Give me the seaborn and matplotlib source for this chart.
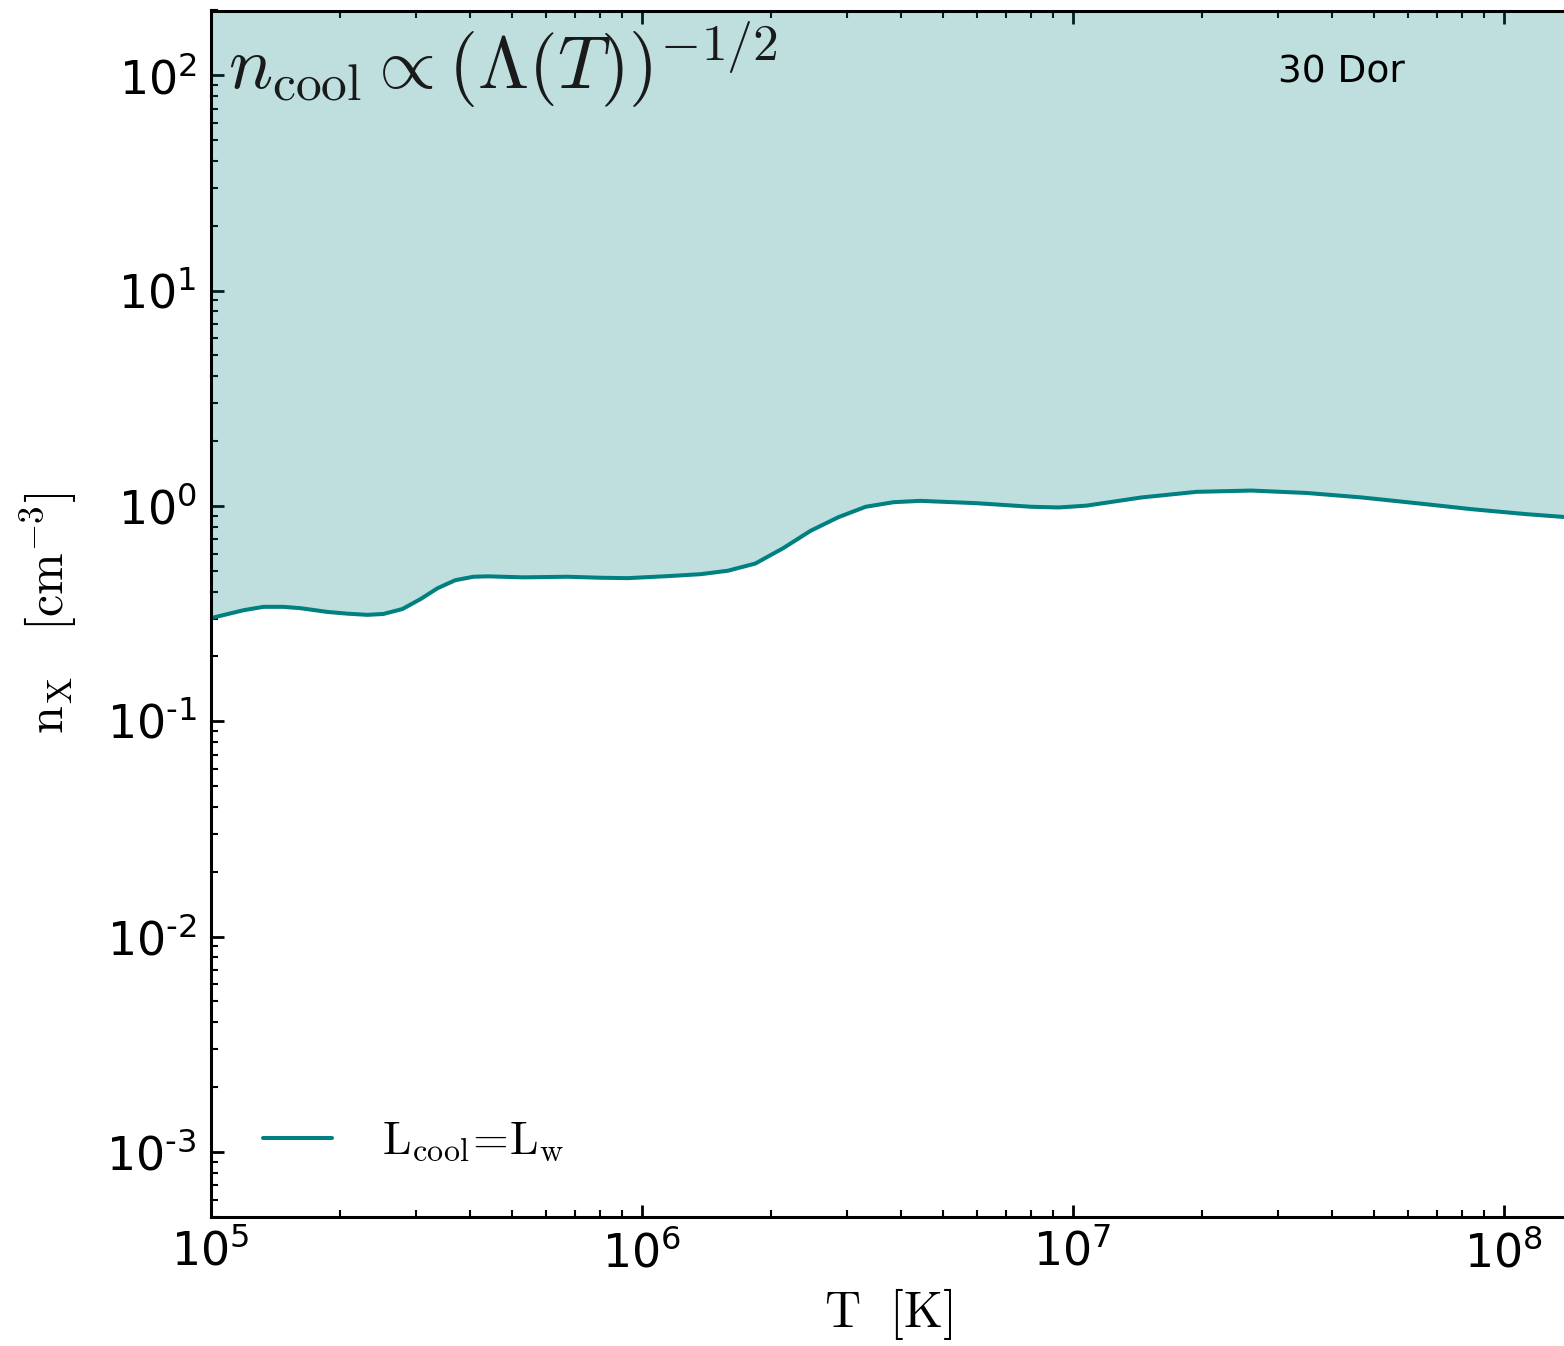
import numpy as np
import pandas as pd
import matplotlib
matplotlib.use("Agg")
import matplotlib.pyplot as plt
import matplotlib.ticker as mticker
import seaborn as sns

# Data: temperature [K] and critical density n_X [cm^-3]
log_T = [5.000, 5.077, 5.123, 5.169, 5.209, 5.271, 5.318, 5.364, 5.401, 5.445,
         5.487, 5.527, 5.568, 5.610, 5.643, 5.726, 5.828, 5.905, 5.968, 6.060,
         6.137, 6.200, 6.264, 6.329, 6.392, 6.457, 6.520, 6.585, 6.647, 6.777,
         6.905, 6.968, 7.032, 7.160, 7.288, 7.415, 7.543, 7.671, 7.798, 7.926,
         8.053, 8.146]
n_X = [0.301, 0.328, 0.340, 0.340, 0.335, 0.322, 0.316, 0.312, 0.315, 0.332,
       0.369, 0.415, 0.452, 0.469, 0.471, 0.466, 0.469, 0.464, 0.462, 0.472,
       0.482, 0.500, 0.540, 0.637, 0.766, 0.887, 0.991, 1.041, 1.056, 1.030,
       0.991, 0.984, 1.003, 1.095, 1.163, 1.179, 1.149, 1.095, 1.030, 0.966,
       0.916, 0.887]
T = [10 ** v for v in log_T]

label_line = r'$\mathrm{L_{cool}\!=\!L_w}$'
label_region = '30 Dor'
label_formula = r'$n_{\rm cool} \propto \left(\Lambda(T)\right)^{-1/2}$'

df = pd.DataFrame({'T': T, 'n': n_X})

sns.set_style('ticks')
plt.rcParams['font.family'] = ['DejaVu Sans']
plt.rcParams['mathtext.fontset'] = 'cm'
plt.rcParams['xtick.direction'] = 'in'
plt.rcParams['ytick.direction'] = 'in'
plt.rcParams['text.color'] = 'black'
plt.rcParams['axes.labelcolor'] = 'black'
plt.rcParams['xtick.color'] = 'black'
plt.rcParams['ytick.color'] = 'black'

teal = '#008080'

fig = plt.figure(figsize=(15.64, 13.46), dpi=100)
ax = fig.add_axes([210.5 / 1564, 1 - 1216.7 / 1346, 1356 / 1564, (1216.7 - 10.5) / 1346])

ax.fill_between(df['T'], df['n'], 1e4, color=teal, alpha=0.25, linewidth=0)
sns.lineplot(data=df, x='T', y='n', ax=ax, color=teal, linewidth=2.9, label=label_line)

ax.set_xscale('log')
ax.set_yscale('log')
ax.set_xlim(1e5, 1.4e8)
ax.set_ylim(5e-4, 200)


def log_fmt(v, pos):
    e = int(round(np.log10(v)))
    s = str(e).replace('-', '\u2010')
    return r'$\mathdefault{10^{%s}}$' % s


ax.xaxis.set_major_formatter(mticker.FuncFormatter(log_fmt))
ax.yaxis.set_major_formatter(mticker.FuncFormatter(log_fmt))

ax.set_xlabel(r'$\mathrm{T\ \ [K]}$', fontsize=36, labelpad=7)
ax.set_ylabel(r'$\mathrm{n_X}\ \ \ \mathrm{[cm^{-3}]}$', fontsize=36, labelpad=19)

ax.tick_params(axis='both', which='major', labelsize=33, length=9, width=2.0, pad=10,
               color='black', top=True, right=False)
ax.tick_params(axis='both', which='minor', length=5, width=1.5, color='black',
               top=True, right=False)
for s in ax.spines.values():
    s.set_linewidth(2.2)
    s.set_color('black')
ax.spines['right'].set_visible(False)

ax.text(0.013, 0.935, label_formula, transform=ax.transAxes, fontsize=53,
        color='#1a1a1a', va='baseline', ha='left')
ax.text(0.787, 0.94, label_region, transform=ax.transAxes, fontsize=27,
        va='baseline', ha='left', color='black')

leg = ax.legend(loc='lower left', frameon=False, fontsize=33, handlelength=1.5,
                handletextpad=1.1, borderaxespad=0.75)

fig.savefig('out.png', dpi=100)
